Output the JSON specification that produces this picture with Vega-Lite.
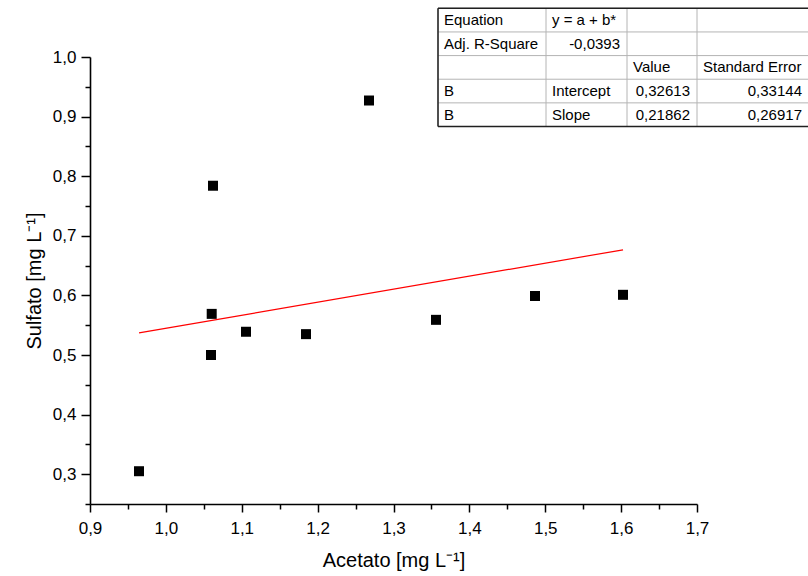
{
  "$schema": "https://vega.github.io/schema/vega-lite/v6.json",
  "width": 607,
  "height": 447,
  "autosize": {"type": "none"},
  "padding": {"left": 90, "top": 57, "right": 111, "bottom": 72},
  "background": "white",
  "config": {
    "view": {"stroke": null},
    "font": "Liberation Sans",
    "axis": {
      "grid": false,
      "domainColor": "black",
      "domainWidth": 1.6,
      "tickColor": "black",
      "tickWidth": 1.5,
      "labelColor": "black",
      "labelFontSize": 17,
      "labelFont": "Liberation Sans",
      "titleFont": "Liberation Sans",
      "titleFontSize": 20,
      "titleFontWeight": "normal",
      "titleColor": "black",
      "labelOverlap": false,
      "labelFlush": false
    }
  },
  "datasets": {
    "points": [
      {"Acetato": 0.9646, "Sulfato": 0.305},
      {"Acetato": 1.0595, "Sulfato": 0.500},
      {"Acetato": 1.0604, "Sulfato": 0.569},
      {"Acetato": 1.0621, "Sulfato": 0.784},
      {"Acetato": 1.1056, "Sulfato": 0.539},
      {"Acetato": 1.1847, "Sulfato": 0.535},
      {"Acetato": 1.2677, "Sulfato": 0.927},
      {"Acetato": 1.3560, "Sulfato": 0.559},
      {"Acetato": 1.4865, "Sulfato": 0.599},
      {"Acetato": 1.6025, "Sulfato": 0.601}
    ],
    "fit": [
      {"Acetato": 0.9646, "Sulfato": 0.5370},
      {"Acetato": 1.6025, "Sulfato": 0.6765}
    ],
    "table": [
      {"r": 1, "c": 1, "t": "Equation"},
      {"r": 1, "c": 2, "t": "y = a + b*"},
      {"r": 2, "c": 1, "t": "Adj. R-Square"},
      {"r": 2, "c": 2, "t": "-0,0393"},
      {"r": 3, "c": 3, "t": "Value"},
      {"r": 3, "c": 4, "t": "Standard Error"},
      {"r": 4, "c": 1, "t": "B"},
      {"r": 4, "c": 2, "t": "Intercept"},
      {"r": 4, "c": 3, "t": "0,32613"},
      {"r": 4, "c": 4, "t": "0,33144"},
      {"r": 5, "c": 1, "t": "B"},
      {"r": 5, "c": 2, "t": "Slope"},
      {"r": 5, "c": 3, "t": "0,21862"},
      {"r": 5, "c": 4, "t": "0,26917"}
    ],
    "vlines": [{"c": 1}, {"c": 2}, {"c": 3}, {"c": 4}, {"c": 5}],
    "hlines": [{"r": 1}, {"r": 2}, {"r": 3}, {"r": 4}, {"r": 5}, {"r": 6}]
  },
  "layer": [
    {
      "data": {"name": "fit"},
      "mark": {"type": "line", "color": "#ff0000", "strokeWidth": 1.2},
      "encoding": {
        "x": {"field": "Acetato", "type": "quantitative", "scale": {"domain": [0.9, 1.7], "nice": false, "zero": false}, "axis": null},
        "y": {"field": "Sulfato", "type": "quantitative", "scale": {"domain": [0.25, 1.0], "nice": false, "zero": false}, "axis": null}
      }
    },
    {
      "data": {"name": "points"},
      "mark": {"type": "point", "shape": "square", "filled": true, "color": "black", "size": 100, "opacity": 1},
      "encoding": {
        "x": {
          "field": "Acetato", "type": "quantitative",
          "scale": {"domain": [0.9, 1.7], "nice": false, "zero": false},
          "axis": {
            "orient": "bottom",
            "title": "Acetato [mg L⁻¹]",
            "values": [0.9, 0.95, 1.0, 1.05, 1.1, 1.15, 1.2, 1.25, 1.3, 1.35, 1.4, 1.45, 1.5, 1.55, 1.6, 1.65, 1.7],
            "labelExpr": "round(datum.value*20)%2==0 ? replace(format(datum.value,'.1f'),'.',',') : ''",
            "tickSize": {"condition": {"test": "round(datum.value*20)%2==0", "value": 8}, "value": 5},
            "labelPadding": 8,
            "titlePadding": 14
          }
        },
        "y": {
          "field": "Sulfato", "type": "quantitative",
          "scale": {"domain": [0.25, 1.0], "nice": false, "zero": false},
          "axis": {
            "orient": "left",
            "title": "Sulfato [mg L⁻¹]",
            "values": [0.25, 0.3, 0.35, 0.4, 0.45, 0.5, 0.55, 0.6, 0.65, 0.7, 0.75, 0.8, 0.85, 0.9, 0.95, 1.0],
            "labelExpr": "round(datum.value*20)%2==0 ? replace(format(datum.value,'.1f'),'.',',') : ''",
            "tickSize": {"condition": {"test": "round(datum.value*20)%2==0", "value": 9}, "value": 5},
            "labelPadding": 5,
            "titlePadding": 8
          }
        }
      }
    },
    {
      "data": {"name": "vlines"},
      "mark": {"type": "rule", "color": "#b4b4b4", "strokeWidth": 1},
      "encoding": {
        "x": {"field": "c", "type": "quantitative", "scale": {"domain": [1, 2, 3, 4, 5], "range": [348, 456, 537, 607, 719], "nice": false, "zero": false}, "axis": null},
        "y": {"datum": 1, "type": "quantitative", "scale": {"domain": [1, 6], "range": [-48.7, 69.5], "nice": false, "zero": false}, "axis": null},
        "y2": {"datum": 6}
      }
    },
    {
      "data": {"name": "hlines"},
      "mark": {"type": "rule", "color": "#b4b4b4", "strokeWidth": 1},
      "encoding": {
        "x": {"datum": 1, "type": "quantitative", "scale": {"domain": [1, 2, 3, 4, 5], "range": [348, 456, 537, 607, 719], "nice": false, "zero": false}, "axis": null},
        "x2": {"datum": 5},
        "y": {"field": "r", "type": "quantitative", "scale": {"domain": [1, 6], "range": [-48.7, 69.5], "nice": false, "zero": false}, "axis": null}
      }
    },
    {
      "data": {"name": "vlines"},
      "transform": [{"filter": "datum.c == 1"}],
      "mark": {"type": "rule", "color": "#202020", "strokeWidth": 1.5},
      "encoding": {
        "x": {"field": "c", "type": "quantitative", "scale": {"domain": [1, 2, 3, 4, 5], "range": [348, 456, 537, 607, 719], "nice": false, "zero": false}, "axis": null},
        "y": {"datum": 1, "type": "quantitative", "scale": {"domain": [1, 6], "range": [-48.7, 69.5], "nice": false, "zero": false}, "axis": null},
        "y2": {"datum": 6}
      }
    },
    {
      "data": {"name": "hlines"},
      "transform": [{"filter": "datum.r == 1 || datum.r == 6"}],
      "mark": {"type": "rule", "color": "#202020", "strokeWidth": 1.5},
      "encoding": {
        "x": {"datum": 1, "type": "quantitative", "scale": {"domain": [1, 2, 3, 4, 5], "range": [348, 456, 537, 607, 719], "nice": false, "zero": false}, "axis": null},
        "x2": {"datum": 5},
        "y": {"field": "r", "type": "quantitative", "scale": {"domain": [1, 6], "range": [-48.7, 69.5], "nice": false, "zero": false}, "axis": null}
      }
    },
    {
      "data": {"name": "table"},
      "transform": [{"filter": "!isValid(toNumber(replace(datum.t, ',', '.')))"}],
      "mark": {"type": "text", "align": "left", "baseline": "middle", "dx": 6, "dy": 11.8, "fontSize": 15, "font": "Liberation Sans", "color": "black"},
      "encoding": {
        "x": {"field": "c", "type": "quantitative", "scale": {"domain": [1, 2, 3, 4, 5], "range": [348, 456, 537, 607, 719], "nice": false, "zero": false}, "axis": null},
        "y": {"field": "r", "type": "quantitative", "scale": {"domain": [1, 6], "range": [-48.7, 69.5], "nice": false, "zero": false}, "axis": null},
        "text": {"field": "t"}
      }
    },
    {
      "data": {"name": "table"},
      "transform": [{"filter": "isValid(toNumber(replace(datum.t, ',', '.')))"}],
      "mark": {"type": "text", "align": "right", "baseline": "middle", "dx": -7, "dy": 11.8, "fontSize": 15, "font": "Liberation Sans", "color": "black"},
      "encoding": {
        "x": {"field": "c", "type": "quantitative", "scale": {"domain": [1, 2, 3, 4], "range": [456, 537, 607, 719], "nice": false, "zero": false}, "axis": null},
        "y": {"field": "r", "type": "quantitative", "scale": {"domain": [1, 6], "range": [-48.7, 69.5], "nice": false, "zero": false}, "axis": null},
        "text": {"field": "t"}
      }
    }
  ],
  "resolve": {"scale": {"x": "independent", "y": "independent"}}
}
